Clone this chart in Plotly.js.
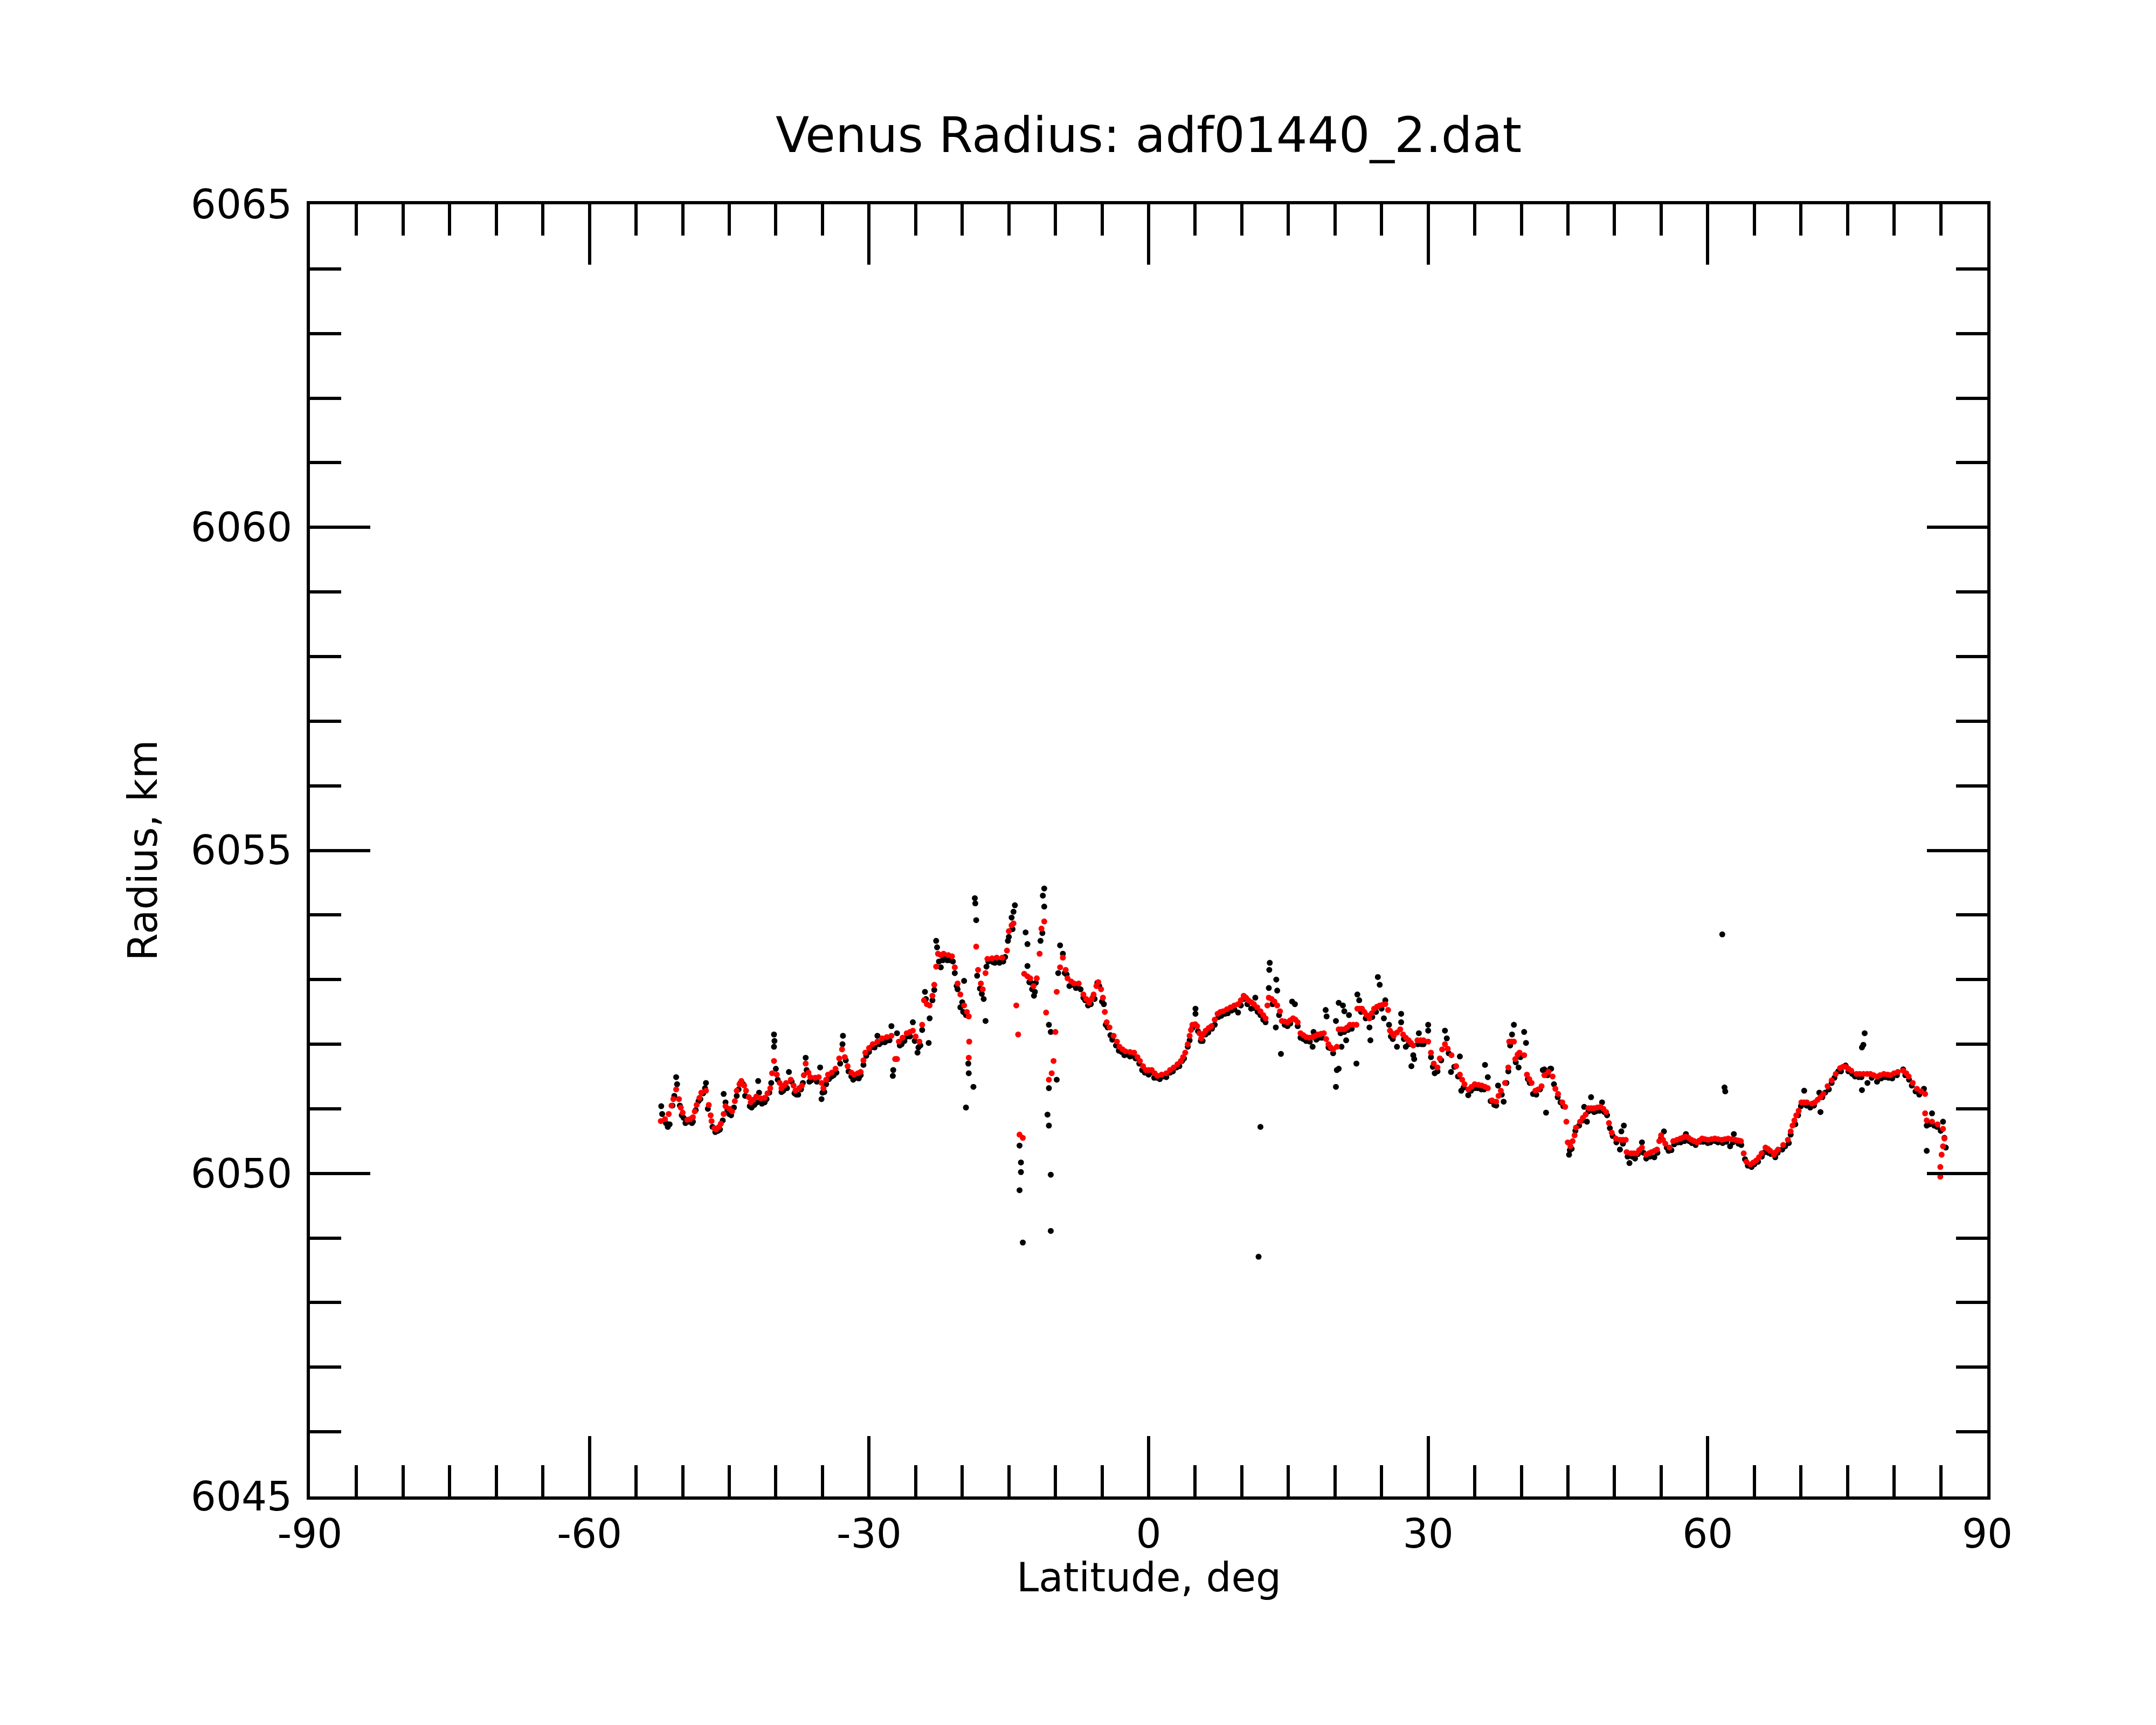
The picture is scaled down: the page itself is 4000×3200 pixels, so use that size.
<!DOCTYPE html>
<html>
<head>
<meta charset="utf-8">
<script src="https://cdn.plot.ly/plotly-3.0.1.min.js"></script>
<style>
  html, body { margin: 0; padding: 0; background: #fff; }
  #plot { width: 4000px; height: 3200px; }
</style>
</head>
<body>
<div id="plot"></div>
<script>
// smoothed profile (red)
const latRed = [
  -52.35, -51.9, -51.5, -51.2, -51.0, -50.7, -50.4, -50.2, -50.0, -49.5, -49.2, -48.9, -48.7, -48.5, -48.2, -48.0,
  -47.5, -47.2, -47.0, -46.9, -46.6, -46.4, -46.1, -45.9, -45.6, -45.4, -45.0, -44.7, -44.4, -44.2, -43.9, -43.7,
  -43.4, -43.2, -42.9, -42.7, -42.4, -42.1, -41.6, -41.2, -40.9, -40.6, -40.4, -40.2, -39.9, -39.6, -39.4, -39.1,
  -38.9, -38.4, -38.1, -37.9, -37.5, -37.2, -37.0, -36.8, -36.5, -36.3, -35.8, -35.4, -35.1, -34.9, -34.6, -34.4,
  -34.0, -33.6, -33.2, -32.9, -32.6, -32.3, -31.9, -31.6, -31.2, -30.9, -30.6, -30.4, -30.0, -29.6, -29.1, -28.6,
  -28.1, -27.6, -27.2, -27.0, -26.8, -26.4, -25.96, -25.6, -25.3, -25.0, -24.6, -24.3, -24.1, -23.8, -23.5, -23.2,
  -23.0, -22.8, -22.6, -22.3, -22.0, -21.5, -21.1, -20.8, -20.5, -20.2, -19.8, -19.5, -19.3, -19.25, -19.3, -18.5,
  -18.3, -18.0, -17.8, -17.5, -17.3, -16.8, -16.3, -15.7, -15.2, -15.0, -14.7, -14.5, -14.2, -14.0, -13.85, -13.5,
  -13.35, -13.0, -12.7, -12.35, -12.0, -11.7, -11.5, -11.2, -11.0, -10.7, -10.4, -10.2, -10.0, -9.86, -9.5, -9.2,
  -8.9, -8.7, -8.3, -8.0, -7.5, -7.0, -6.7, -6.4, -6.1, -5.9, -5.6, -5.4, -5.1, -4.9, -4.7, -4.5,
  -4.2, -3.75, -3.4, -3.12, -2.8, -2.5, -2.0, -1.55, -1.2, -0.93, -0.6, -0.3, 0.0, 0.33, 0.65, 0.95,
  1.4, 1.9, 2.3, 2.7, 3.1, 3.46, 3.7, 3.93, 4.2, 4.4, 4.55, 4.7, 5.0, 5.2, 5.45, 5.65,
  5.9, 6.13, 6.45, 6.75, 7.1, 7.4, 7.7, 8.0, 8.4, 8.8, 9.2, 9.6, 9.9, 10.2, 10.45, 10.7,
  11.0, 11.3, 11.65, 12.0, 12.3, 12.55, 12.75, 12.9, 13.2, 13.5, 13.8, 14.1, 14.3, 14.6, 14.9, 15.2,
  15.5, 15.75, 16.0, 16.3, 16.6, 16.9, 17.25, 17.6, 17.9, 18.2, 18.5, 18.8, 19.05, 19.3, 19.55, 19.8,
  20.2, 20.4, 20.7, 21.0, 21.3, 21.6, 21.95, 22.3, 22.4, 22.65, 22.9, 23.15, 23.4, 23.7, 23.95, 24.2,
  24.5, 24.8, 25.1, 25.4, 25.7, 25.9, 26.1, 26.3, 26.65, 27.0, 27.3, 27.6, 27.9, 28.15, 28.4, 28.85,
  29.2, 29.5, 30.0, 30.3, 30.6, 31.0, 31.25, 31.5, 31.8, 32.1, 32.5, 33.0, 33.4, 33.65, 33.9, 34.3,
  34.65, 35.0, 35.4, 35.75, 36.1, 36.4, 36.85, 37.3, 37.55, 37.8, 38.25, 38.6, 38.7, 38.95, 39.2, 39.35,
  39.6, 39.8, 40.3, 40.6, 40.85, 41.1, 41.5, 41.8, 42.17, 42.47, 42.9, 43.35, 43.65, 43.94, 44.4, 44.7,
  44.83, 44.98, 45.27, 45.5, 45.71, 45.86, 46.3, 46.6, 46.9, 47.2, 47.5, 47.78, 48.15, 48.5, 48.8, 49.1,
  49.4, 49.7, 50.14, 50.6, 50.9, 51.2, 51.3, 51.76, 52.05, 52.35, 52.65, 52.94, 53.4, 53.7, 53.97, 54.3,
  54.56, 54.8, 55.0, 55.2, 55.45, 55.9, 56.3, 56.7, 57.07, 57.4, 57.66, 57.95, 58.25, 58.55, 58.84, 59.1,
  59.4, 59.7, 60.02, 60.4, 60.76, 61.1, 61.5, 61.85, 62.2, 62.6, 62.97, 63.3, 63.56, 63.86, 64.15, 64.6,
  64.9, 65.2, 65.5, 65.78, 66.2, 66.45, 66.7, 67.1, 67.3, 67.55, 68.1, 68.6, 68.9, 69.1, 69.3, 69.5,
  69.76, 70.05, 70.35, 70.64, 71.2, 71.5, 71.8, 72.1, 72.4, 72.86, 73.3, 73.74, 74.2, 74.5, 74.8, 75.1,
  75.4, 75.96, 76.3, 76.7, 77.1, 77.45, 77.8, 78.17, 78.5, 78.9, 79.3, 79.6, 80.0, 80.4, 80.97, 81.3,
  81.56, 82.0, 82.45, 82.9, 83.33, 83.33, 83.5, 84.07, 84.66, 85.25, 85.4, 85.25, 85.1, 84.96, 84.96
];
const radRed = [
  6050.81, 6050.84, 6050.92, 6051.05, 6051.15, 6051.30, 6051.15, 6051.02, 6050.94, 6050.83, 6050.84, 6050.87, 6050.96, 6051.06, 6051.17, 6051.25,
  6051.28, 6051.06, 6050.90, 6050.81, 6050.70, 6050.68, 6050.72, 6050.77, 6050.92, 6051.04, 6051.00, 6050.96, 6051.12, 6051.28, 6051.38, 6051.43,
  6051.36, 6051.28, 6051.18, 6051.10, 6051.14, 6051.19, 6051.16, 6051.17, 6051.24, 6051.32, 6051.55, 6051.74, 6051.53, 6051.40, 6051.32, 6051.36,
  6051.40, 6051.45, 6051.36, 6051.28, 6051.32, 6051.36, 6051.52, 6051.70, 6051.56, 6051.49, 6051.48, 6051.49, 6051.40, 6051.32, 6051.45, 6051.53,
  6051.56, 6051.62, 6051.78, 6051.92, 6051.80, 6051.66, 6051.56, 6051.53, 6051.55, 6051.57, 6051.75, 6051.87, 6051.94, 6052.00, 6052.04, 6052.09,
  6052.11, 6052.13, 6051.77, 6051.77, 6052.04, 6052.10, 6052.17, 6052.19, 6052.21, 6052.12, 6052.04, 6052.30, 6052.68, 6052.62, 6052.60, 6052.75,
  6052.92, 6053.20, 6053.40, 6053.38, 6053.40, 6053.38, 6053.36, 6053.19, 6052.94, 6052.77, 6052.60, 6052.50, 6052.43, 6052.04, 6051.79, 6053.51,
  6053.15, 6052.94, 6052.85, 6053.10, 6053.32, 6053.33, 6053.34, 6053.34, 6053.45, 6053.75, 6053.84, 6053.87, 6052.60, 6052.15, 6050.60, 6050.55,
  6053.09, 6053.05, 6053.02, 6052.90, 6053.02, 6053.40, 6053.79, 6053.90, 6052.49, 6051.45, 6051.55, 6051.74, 6052.19, 6052.81, 6053.19, 6053.34,
  6053.15, 6053.02, 6052.97, 6052.94, 6052.94, 6052.77, 6052.70, 6052.64, 6052.70, 6052.77, 6052.90, 6052.96, 6052.85, 6052.72, 6052.50, 6052.34,
  6052.26, 6052.13, 6052.04, 6051.96, 6051.92, 6051.89, 6051.88, 6051.87, 6051.80, 6051.74, 6051.66, 6051.60, 6051.60, 6051.60, 6051.55, 6051.51,
  6051.53, 6051.55, 6051.60, 6051.64, 6051.69, 6051.74, 6051.80, 6051.87, 6052.00, 6052.13, 6052.22, 6052.30, 6052.31, 6052.28, 6052.17, 6052.09,
  6052.16, 6052.21, 6052.25, 6052.28, 6052.38, 6052.47, 6052.50, 6052.51, 6052.54, 6052.57, 6052.60, 6052.62, 6052.68, 6052.75, 6052.72, 6052.68,
  6052.65, 6052.62, 6052.57, 6052.51, 6052.45, 6052.40, 6052.60, 6052.72, 6052.70, 6052.66, 6052.60, 6052.51, 6052.36, 6052.35, 6052.34, 6052.37,
  6052.40, 6052.38, 6052.34, 6052.17, 6052.14, 6052.11, 6052.10, 6052.11, 6052.13, 6052.15, 6052.16, 6052.17, 6052.08, 6052.00, 6051.95, 6051.92,
  6051.96, 6052.23, 6052.23, 6052.23, 6052.26, 6052.30, 6052.30, 6052.30, 6052.55, 6052.55, 6052.55, 6052.50, 6052.45, 6052.40, 6052.48, 6052.55,
  6052.58, 6052.60, 6052.61, 6052.62, 6052.53, 6052.21, 6052.17, 6052.13, 6052.18, 6052.23, 6052.15, 6052.10, 6052.06, 6052.02, 6051.98, 6052.06,
  6052.06, 6052.06, 6052.04, 6051.87, 6051.70, 6051.64, 6051.78, 6051.92, 6052.00, 6051.93, 6051.83, 6051.66, 6051.53, 6051.45, 6051.38, 6051.30,
  6051.34, 6051.38, 6051.37, 6051.36, 6051.34, 6051.32, 6051.13, 6051.11, 6051.20, 6051.28, 6051.40, 6051.64, 6052.04, 6052.04, 6052.04, 6051.77,
  6051.84, 6051.87, 6051.83, 6051.53, 6051.46, 6051.40, 6051.28, 6051.30, 6051.35, 6051.52, 6051.57, 6051.50, 6051.31, 6051.23, 6051.10, 6051.03,
  6050.80, 6050.48, 6050.42, 6050.50, 6050.59, 6050.71, 6050.80, 6050.86, 6050.91, 6051.01, 6051.01, 6051.01, 6051.02, 6051.03, 6051.00, 6050.95,
  6050.78, 6050.63, 6050.54, 6050.52, 6050.52, 6050.52, 6050.33, 6050.31, 6050.31, 6050.31, 6050.36, 6050.40, 6050.29, 6050.31, 6050.33, 6050.35,
  6050.37, 6050.50, 6050.59, 6050.52, 6050.46, 6050.40, 6050.50, 6050.52, 6050.54, 6050.56, 6050.57, 6050.55, 6050.52, 6050.50, 6050.48, 6050.51,
  6050.54, 6050.53, 6050.52, 6050.53, 6050.54, 6050.53, 6050.52, 6050.53, 6050.54, 6050.53, 6050.52, 6050.51, 6050.50, 6050.31, 6050.18, 6050.14,
  6050.17, 6050.20, 6050.25, 6050.31, 6050.40, 6050.38, 6050.35, 6050.29, 6050.33, 6050.37, 6050.44, 6050.52, 6050.65, 6050.74, 6050.82, 6050.90,
  6050.97, 6051.10, 6051.10, 6051.10, 6051.08, 6051.10, 6051.14, 6051.18, 6051.23, 6051.35, 6051.44, 6051.54, 6051.63, 6051.65, 6051.65, 6051.62,
  6051.59, 6051.54, 6051.54, 6051.54, 6051.54, 6051.54, 6051.52, 6051.50, 6051.52, 6051.54, 6051.53, 6051.52, 6051.55, 6051.57, 6051.59, 6051.55,
  6051.50, 6051.40, 6051.31, 6051.27, 6051.23, 6050.93, 6050.82, 6050.80, 6050.76, 6050.69, 6050.54, 6050.42, 6050.29, 6050.10, 6049.95
];

// raw samples (black): scattered points and spikes
const latBlack = [
  -52.3, -52.2, -51.6, -51.4, -50.9, -50.7, -50.6, -50.1, -49.7, -49.3, -48.9, -48.3, -47.8, -47.5, -47.6, -46.5,
  -46.2, -45.6, -45.4, -45.2, -44.8, -44.2, -43.8, -43.5, -42.8, -42.3, -41.9, -41.8, -41.2, -40.7, -40.2, -40.2,
  -40.15, -40.0, -39.4, -39.0, -38.6, -38.3, -37.8, -37.3, -36.8, -36.7, -36.2, -35.25, -35.1, -35.0, -34.6, -34.0,
  -33.5, -32.8, -32.85, -32.5, -31.9, -31.4, -30.9, -30.3, -29.8, -29.1, -28.6, -28.0, -27.6, -27.45, -27.4, -27.0,
  -26.5, -25.9, -25.3, -24.8, -24.7, -24.5, -24.0, -23.9, -23.6, -23.5, -22.8, -22.7, -22.3, -22.5, -21.9, -21.3,
  -20.8, -20.5, -20.2, -19.8, -19.9, -19.6, -19.3, -19.35, -18.8, -18.65, -18.6, -18.5, -17.7, -17.5, -17.2, -16.7,
  -16.2, -15.6, -15.1, -14.7, -14.35, -14.5, -13.85, -13.7, -13.7, -13.85, -13.5, -13.2, -13.0, -13.0, -12.6, -12.2,
  -12.3, -11.2, -11.35, -11.2, -10.7, -10.5, -9.86, -10.7, -10.85, -10.7, -10.5, -10.5, -9.5, -9.2, -8.8, -8.2,
  -7.6, -7.0, -6.5, -6.0, -5.5, -5.0, -4.6, -4.1, -3.5, -2.9, -2.3, -1.7, -1.0, -0.4, 0.2, 0.9,
  1.6, 2.3, 3.0, 3.6, 4.2, 4.7, 5.03, 5.03, 5.6, 6.1, 6.8, 7.5, 8.2, 8.9, 9.6, 10.2,
  11.0, 11.45, 12.0, 12.55, 12.9, 13.0, 12.95, 13.7, 13.8, 13.65, 14.2, 12.0, 11.8, 14.6, 15.4, 15.7,
  16.0, 16.6, 17.6, 17.7, 18.3, 19.0, 19.1, 19.5, 20.1, 20.4, 20.85, 21.0, 21.2, 21.0, 20.7, 20.2,
  20.4, 20.1, 22.3, 21.5, 22.4, 22.6, 23.7, 23.8, 24.6, 24.8, 25.25, 25.4, 26.2, 26.65, 27.1, 27.1,
  27.6, 28.4, 28.5, 28.2, 29.0, 30.0, 30.0, 29.5, 30.7, 31.0, 31.8, 32.0, 32.45, 33.4, 33.55, 34.3,
  35.0, 35.7, 36.1, 36.4, 37.1, 37.5, 38.1, 38.6, 39.2, 39.0, 40.3, 40.5, 39.7, 40.9, 41.25, 41.6,
  42.3, 42.65, 43.1, 42.47, 43.2, 43.9, 44.5, 45.12, 45.2, 45.8, 46.74, 47.04, 47.48, 48.0, 48.66, 49.2,
  49.8, 50.58, 50.73, 51.0, 51.6, 52.2, 52.94, 53.4, 54.27, 55.3, 55.0, 55.8, 56.4, 57.66, 57.1, 58.3,
  59.2, 60.0, 60.8, 61.56, 61.8, 61.88, 61.6, 62.4, 62.8, 63.3, 64.3, 65.0, 65.8, 66.5, 67.25, 67.99,
  68.7, 69.4, 70.0, 70.35, 71.0, 71.97, 72.1, 72.6, 73.3, 74.0, 74.8, 75.5, 76.2, 76.84, 76.7, 76.55,
  76.55, 77.14, 78.17, 79.0, 79.8, 80.97, 81.6, 82.3, 83.2, 83.5, 84.07, 83.5, 84.6, 85.25, 85.55, 85.4
];
const radBlack = [
  6051.04, 6050.92, 6050.72, 6050.76, 6051.20, 6051.49, 6051.38, 6050.90, 6050.78, 6050.80, 6050.80, 6051.12, 6051.24, 6051.40, 6051.32, 6050.64,
  6050.66, 6051.23, 6051.10, 6050.98, 6050.90, 6051.20, 6051.40, 6051.38, 6051.04, 6051.06, 6051.43, 6051.25, 6051.10, 6051.25, 6052.15, 6051.96,
  6052.05, 6051.62, 6051.26, 6051.35, 6051.57, 6051.42, 6051.22, 6051.30, 6051.79, 6051.60, 6051.44, 6051.64, 6051.15, 6051.25, 6051.38, 6051.50,
  6051.56, 6052.13, 6052.00, 6051.75, 6051.50, 6051.48, 6051.52, 6051.82, 6051.95, 6052.13, 6052.03, 6052.06, 6052.28, 6051.51, 6051.60, 6052.17,
  6052.00, 6052.12, 6052.34, 6051.87, 6051.95, 6051.98, 6052.81, 6052.70, 6052.02, 6052.40, 6053.60, 6053.50, 6053.19, 6053.28, 6053.32, 6053.30,
  6053.10, 6052.85, 6052.57, 6052.98, 6052.50, 6051.02, 6051.55, 6051.70, 6051.34, 6054.26, 6054.18, 6053.92, 6052.70, 6052.36, 6053.28, 6053.27,
  6053.28, 6053.28, 6053.60, 6053.96, 6054.15, 6054.05, 6050.43, 6050.17, 6050.02, 6049.74, 6048.93, 6053.73, 6053.55, 6053.21, 6052.95, 6052.81,
  6052.75, 6054.41, 6054.30, 6054.13, 6052.30, 6052.19, 6051.45, 6051.32, 6050.91, 6050.74, 6049.98, 6049.11, 6053.53, 6053.40, 6053.08, 6052.92,
  6052.88, 6052.72, 6052.60, 6052.72, 6052.95, 6052.66, 6052.30, 6052.14, 6051.98, 6051.88, 6051.84, 6051.82, 6051.70, 6051.56, 6051.56, 6051.48,
  6051.50, 6051.56, 6051.64, 6051.74, 6051.96, 6052.25, 6052.55, 6052.47, 6052.05, 6052.15, 6052.24, 6052.42, 6052.47, 6052.52, 6052.49, 6052.70,
  6052.55, 6052.72, 6052.45, 6052.34, 6052.87, 6053.26, 6053.15, 6053.00, 6052.83, 6052.26, 6051.85, 6050.72, 6048.71, 6052.30, 6052.66, 6052.62,
  6052.28, 6052.08, 6051.96, 6052.19, 6052.10, 6052.53, 6052.43, 6051.94, 6052.36, 6052.64, 6052.60, 6052.51, 6052.06, 6052.19, 6051.96, 6051.60,
  6051.62, 6051.34, 6051.70, 6052.45, 6052.77, 6052.68, 6052.26, 6052.06, 6053.04, 6052.92, 6052.40, 6052.68, 6052.08, 6051.96, 6052.47, 6052.34,
  6051.96, 6051.83, 6051.77, 6051.66, 6052.17, 6052.30, 6052.21, 6052.00, 6051.55, 6051.58, 6052.21, 6052.09, 6051.57, 6051.81, 6051.28, 6051.21,
  6051.32, 6051.30, 6051.68, 6051.49, 6051.06, 6051.36, 6051.11, 6051.58, 6052.30, 6052.15, 6052.19, 6052.02, 6051.64, 6051.40, 6051.23, 6051.22,
  6051.60, 6050.94, 6051.62, 6051.61, 6051.62, 6051.18, 6051.04, 6050.29, 6050.36, 6050.66, 6051.03, 6050.80, 6051.18, 6050.96, 6051.10, 6050.90,
  6050.58, 6050.37, 6050.65, 6050.74, 6050.16, 6050.23, 6050.48, 6050.23, 6050.25, 6050.65, 6050.55, 6050.35, 6050.45, 6050.61, 6050.48, 6050.47,
  6050.49, 6050.47, 6050.50, 6053.70, 6051.33, 6051.27, 6050.47, 6050.42, 6050.61, 6050.46, 6050.12, 6050.14, 6050.26, 6050.32, 6050.25, 6050.37,
  6050.47, 6050.76, 6051.04, 6051.28, 6051.02, 6051.25, 6050.95, 6051.25, 6051.40, 6051.58, 6051.67, 6051.54, 6051.49, 6052.17, 6051.99, 6051.95,
  6051.29, 6051.40, 6051.42, 6051.49, 6051.47, 6051.61, 6051.45, 6051.27, 6051.31, 6050.35, 6050.93, 6050.74, 6050.72, 6050.80, 6050.40, 6050.55
];

// raw samples (black): the band just under the smoothed profile
const latBlackBand = [
  -51.8, -51.1, -50.3, -49.9, -49.0, -48.6, -48.1, -47.3, -46.8, -46.0, -45.7, -45.0, -44.5, -44.0, -43.3, -42.6,
  -42.0, -41.5, -41.0, -40.5, -39.8, -39.2, -38.8, -38.0, -37.6, -37.1, -36.4, -35.6, -34.8, -34.3, -33.8, -33.1,
  -32.2, -31.7, -31.1, -30.6, -30.0, -29.4, -28.9, -28.3, -27.8, -26.7, -26.2, -25.6, -25.1, -24.3, -23.2, -23.0,
  -22.1, -21.6, -21.0, -20.6, -20.0, -19.6, -18.4, -18.1, -17.9, -17.4, -16.5, -16.0, -15.4, -15.0, -14.6, -12.8,
  -12.5, -12.1, -11.6, -11.4, -9.7, -9.0, -8.5, -7.8, -7.3, -6.8, -6.2, -5.8, -5.3, -4.8, -4.4, -3.9,
  -3.2, -2.6, -2.0, -1.4, -0.7, 0.0, 0.6, 1.2, 1.9, 2.6, 3.3, 3.8, 4.4, 5.3, 5.8, 6.4,
  7.1, 7.8, 8.5, 9.2, 9.9, 10.6, 11.3, 11.7, 12.3, 13.3, 14.0, 14.9, 15.2, 16.3, 16.9, 17.3,
  18.0, 18.6, 19.3, 19.8, 20.6, 21.4, 21.8, 22.8, 23.3, 24.0, 24.4, 25.0, 25.8, 26.0, 27.4, 27.9,
  28.9, 29.3, 30.3, 30.5, 31.4, 32.2, 32.8, 33.2, 33.8, 34.6, 35.3, 36.0, 36.7, 37.3, 37.9, 38.4,
  38.8, 39.4, 39.9, 40.7, 41.4, 42.0, 42.8, 43.5, 44.2, 45.4, 46.2, 46.6, 47.2, 47.8, 48.4, 48.9,
  49.5, 50.2, 50.9, 51.4, 51.9, 52.5, 53.1, 53.8, 54.6, 55.6, 56.1, 56.8, 57.5, 58.0, 58.7, 59.5,
  60.3, 61.1, 62.0, 62.7, 63.6, 64.0, 64.7, 65.4, 66.0, 66.8, 67.5, 68.3, 68.9, 69.7, 70.6, 71.4,
  72.3, 73.0, 73.6, 74.3, 75.1, 75.8, 76.5, 77.6, 78.6, 79.4, 80.3, 81.2, 81.9, 82.7, 83.8, 84.3,
  85.0
];
const radBlackBand = [
  6050.78, 6051.05, 6051.05, 6050.86, 6050.78, 6050.98, 6051.15, 6051.00, 6050.72, 6050.68, 6050.82, 6050.92, 6051.02, 6051.30, 6051.20, 6051.02,
  6051.10, 6051.08, 6051.15, 6051.40, 6051.45, 6051.28, 6051.32, 6051.24, 6051.22, 6051.40, 6051.42, 6051.42, 6051.26, 6051.46, 6051.52, 6051.70,
  6051.58, 6051.45, 6051.47, 6051.68, 6051.88, 6051.95, 6052.00, 6052.03, 6052.06, 6051.98, 6052.05, 6052.12, 6052.05, 6052.22, 6052.68, 6052.84,
  6053.30, 6053.30, 6053.28, 6052.90, 6052.65, 6052.45, 6053.06, 6052.86, 6052.78, 6053.20, 6053.26, 6053.26, 6053.35, 6053.66, 6053.78, 6052.96,
  6052.85, 6052.95, 6053.60, 6053.72, 6053.10, 6053.10, 6052.90, 6052.87, 6052.85, 6052.68, 6052.62, 6052.70, 6052.90, 6052.62, 6052.26, 6052.07,
  6051.90, 6051.83, 6051.81, 6051.78, 6051.60, 6051.53, 6051.48, 6051.46, 6051.49, 6051.58, 6051.66, 6051.78, 6052.06, 6052.20, 6052.05, 6052.18,
  6052.30, 6052.44, 6052.48, 6052.54, 6052.60, 6052.62, 6052.56, 6052.50, 6052.38, 6052.62, 6052.45, 6052.28, 6052.32, 6052.10, 6052.05, 6052.04,
  6052.07, 6052.10, 6051.95, 6051.86, 6052.17, 6052.22, 6052.24, 6052.50, 6052.40, 6052.42, 6052.50, 6052.55, 6052.30, 6052.12, 6052.08, 6052.00,
  6052.00, 6052.00, 6051.80, 6051.65, 6051.75, 6051.86, 6051.65, 6051.50, 6051.33, 6051.28, 6051.32, 6051.30, 6051.12, 6051.05, 6051.22, 6051.40,
  6051.98, 6051.72, 6051.80, 6051.46, 6051.24, 6051.30, 6051.52, 6051.38, 6051.10, 6050.38, 6050.74, 6050.82, 6050.96, 6050.95, 6050.97, 6050.95,
  6050.70, 6050.48, 6050.46, 6050.26, 6050.26, 6050.30, 6050.32, 6050.26, 6050.32, 6050.40, 6050.36, 6050.48, 6050.50, 6050.50, 6050.44, 6050.49,
  6050.48, 6050.48, 6050.49, 6050.48, 6050.44, 6050.22, 6050.10, 6050.18, 6050.32, 6050.30, 6050.32, 6050.42, 6050.60, 6050.90, 6051.05, 6051.05,
  6051.18, 6051.30, 6051.48, 6051.58, 6051.58, 6051.50, 6051.49, 6051.48, 6051.47, 6051.48, 6051.52, 6051.52, 6051.36, 6051.22, 6050.76, 6050.74,
  6050.66
];

const xTickVals = [-90, -60, -30, 0, 30, 60, 90];
const xTickText = ['-90', '-60', '-30', '0', '30', '60', '90'];
const yTickVals = [6045, 6050, 6055, 6060, 6065];
const yTickText = ['6045', '6050', '6055', '6060', '6065'];

const fontFamily = '"DejaVu Sans", sans-serif';

const traces = [
  {
    x: latBlack.concat(latBlackBand), y: radBlack.concat(radBlackBand), type: 'scatter', mode: 'markers',
    marker: { color: '#000000', size: 11 }, hoverinfo: 'skip', showlegend: false
  },
  {
    x: latRed, y: radRed, type: 'scatter', mode: 'markers',
    marker: { color: '#ff0000', size: 11 }, hoverinfo: 'skip', showlegend: false
  }
];

const axisCommon = {
  ticks: 'inside',
  ticklen: 112,
  tickwidth: 6,
  tickcolor: '#000',
  showline: true,
  linewidth: 6,
  linecolor: '#000',
  mirror: 'allticks',
  showgrid: false,
  zeroline: false,
  tickfont: { family: fontFamily, size: 74, color: '#000' }
};

const layout = {
  width: 4000,
  height: 3200,
  paper_bgcolor: '#fff',
  plot_bgcolor: '#fff',
  font: { family: fontFamily, color: '#000' },
  margin: { l: 575, r: 313, t: 379, b: 424 },
  showlegend: false,
  title: {
    text: 'Venus Radius: adf01440_2.dat',
    font: { family: fontFamily, size: 91, color: '#000' },
    x: 0.5, xref: 'paper', xanchor: 'center',
    y: 1 - 250 / 3200, yref: 'container', yanchor: 'middle'
  },
  xaxis: {
    ...axisCommon,
    range: [-90, 90],
    tickmode: 'array', tickvals: xTickVals, ticktext: xTickText,
    minor: { tickmode: 'linear', tick0: -90, dtick: 5, ticks: 'inside', ticklen: 58, tickwidth: 6, tickcolor: '#000', showgrid: false }
  },
  yaxis: {
    ...axisCommon,
    range: [6045, 6065],
    ticklabelstandoff: 12,
    tickmode: 'array', tickvals: yTickVals, ticktext: yTickText,
    minor: { tickmode: 'linear', tick0: 6045, dtick: 1, ticks: 'inside', ticklen: 58, tickwidth: 6, tickcolor: '#000', showgrid: false },
    title: { text: 'Radius, km', font: { family: fontFamily, size: 74, color: '#000' }, standoff: 40 }
  },
  annotations: [{
    text: 'Latitude, deg',
    xref: 'paper', yref: 'paper', x: 0.5, y: -(2926 - 2776) / 2397,
    xanchor: 'center', yanchor: 'middle', showarrow: false,
    font: { family: fontFamily, size: 74, color: '#000' }
  }]
};

Plotly.newPlot('plot', traces, layout, { staticPlot: true, displayModeBar: false });
</script>
</body>
</html>
